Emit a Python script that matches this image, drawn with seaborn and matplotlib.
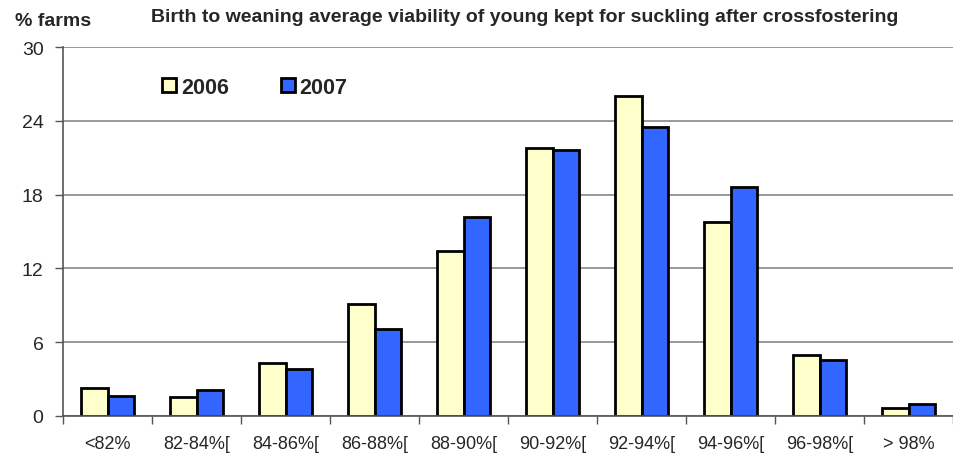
import pandas as pd
import matplotlib.pyplot as plt
import seaborn as sns
import numpy as np

categories = ["<82%", "82-84%[", "84-86%[", "86-88%[", "88-90%[",
              "90-92%[", "92-94%[", "94-96%[", "96-98%[", "> 98%"]
years = ["2006", "2007"]
farms_2006 = [2.3, 1.55, 4.3, 9.1, 13.4, 21.8, 26.0, 15.8, 5.0, 0.65]
farms_2007 = [1.65, 2.1, 3.85, 7.1, 16.2, 21.6, 23.5, 18.6, 4.55, 0.95]

df = pd.DataFrame({
    "range": categories * 2,
    "year": [years[0]] * len(categories) + [years[1]] * len(categories),
    "farms": farms_2006 + farms_2007,
})

sns.set_style("white")
plt.rcParams["font.family"] = ["Liberation Sans", "DejaVu Sans"]

fig = plt.figure(figsize=(9.54, 4.56), dpi=100)
ax = fig.add_axes([63 / 954, 1 - 417 / 456, 890 / 954, 369 / 456])

sns.barplot(data=df, x="range", y="farms", hue="year", order=categories,
            palette={"2006": "#FFFFCC", "2007": "#3366FF"},
            width=0.59, edgecolor="black", linewidth=2, saturation=1,
            ax=ax)

ax.set_xlim(-0.5, len(categories) - 0.5)
ax.set_ylim(0, 30)
ax.set_yticks([0, 6, 12, 18, 24, 30])
ax.yaxis.grid(True, color="#888888", linewidth=1.2)
ax.set_axisbelow(True)

ax.set_xticks(np.arange(-0.5, len(categories), 1.0), minor=True)
ax.tick_params(axis="x", which="major", length=0, labelsize=13, pad=14)
ax.tick_params(axis="x", which="minor", length=6, width=1, color="#555555",
               direction="out", bottom=True)
ax.tick_params(axis="y", length=6, width=1, color="#555555", direction="out",
               left=True, labelsize=14, pad=8)

for side in ["top", "right"]:
    ax.spines[side].set_visible(False)
ax.spines["left"].set_color("#555555")
ax.spines["bottom"].set_color("#555555")
ax.spines["left"].set_linewidth(1.2)
ax.spines["bottom"].set_linewidth(1.2)

ax.set_xlabel("")
ax.set_ylabel("")

leg = ax.legend(loc="upper left", bbox_to_anchor=(0.09, 0.972), ncol=2,
                frameon=False, handlelength=0.65, handleheight=0.65,
                handletextpad=0.2, columnspacing=2.45,
                prop={"weight": "bold", "size": 15.5})

fig.text(15 / 954, 1 - 22 / 456, "% farms", fontsize=14, fontweight="bold",
         va="center", ha="left")
fig.text(525 / 954, 1 - 17 / 456,
         "Birth to weaning average viability of young kept for suckling after crossfostering",
         fontsize=14, fontweight="bold", va="center", ha="center")

fig.savefig("out.png", dpi=100)
